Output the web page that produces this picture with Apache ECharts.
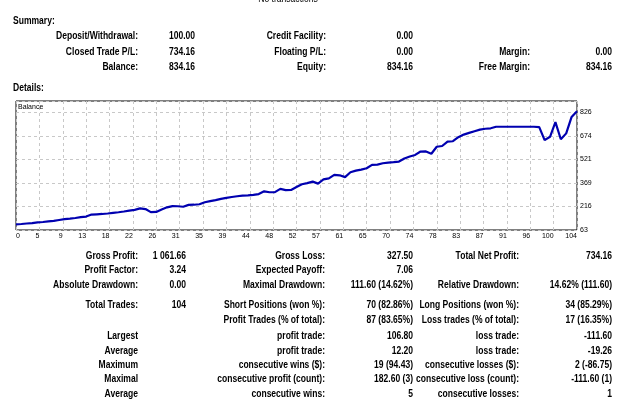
<!DOCTYPE html>
<html><head><meta charset="utf-8">
<script src="https://cdn.jsdelivr.net/npm/echarts@6/dist/echarts.min.js"></script>
<style>html,body{margin:0;padding:0;background:#fff;overflow:hidden}#c{width:625px;height:404px}</style>
</head><body><div id="c"></div>
<script>
// ---- chart data ----
const balance = [100,102,105,108,112,115,119,122,128,134,137,141,146,150,163,165,167,170,174,178,
  183,189,194,203,199,179,180,196,210,218,217,214,226,227,230,243,250,257,265,271,
  277,282,286,288,291,296,314,308,309,330,322,323,342,360,367,377,364,391,398,421,
  418,406,438,448,455,464,486,487,496,500,503,507,527,540,550,572,573,558,603,608,
  637,639,665,682,693,704,714,720,723,733,733,733,733,733,733,733,733,730,646,668,
  763.16,651.56,690,796.8,834.16];
const xTickLabels = ['0','5','9','13','18','22','26','31','35','39','44','48','52','57','61','65','70','74','78','83','87','91','96','100','104'];
const yTickLabels = ['63','216','369','521','674','826'];

// ---- report texts ----
const summaryRows = [
  ['Deposit/Withdrawal:','100.00','Credit Facility:','0.00','',''],
  ['Closed Trade P/L:','734.16','Floating P/L:','0.00','Margin:','0.00'],
  ['Balance:','834.16','Equity:','834.16','Free Margin:','834.16']
];
const detailRows = [
  ['Gross Profit:','1 061.66','Gross Loss:','327.50','Total Net Profit:','734.16'],
  ['Profit Factor:','3.24','Expected Payoff:','7.06','',''],
  ['Absolute Drawdown:','0.00','Maximal Drawdown:','111.60 (14.62%)','Relative Drawdown:','14.62% (111.60)'],
  ['Total Trades:','104','Short Positions (won %):','70 (82.86%)','Long Positions (won %):','34 (85.29%)'],
  ['','','Profit Trades (% of total):','87 (83.65%)','Loss trades (% of total):','17 (16.35%)'],
  ['Largest','','profit trade:','106.80','loss trade:','-111.60'],
  ['Average','','profit trade:','12.20','loss trade:','-19.26'],
  ['Maximum','','consecutive wins ($):','19 (94.43)','consecutive losses ($):','2 (-86.75)'],
  ['Maximal','','consecutive profit (count):','182.60 (3)','consecutive loss (count):','-111.60 (1)'],
  ['Average','','consecutive wins:','5','consecutive losses:','1']
];

// ---- layout ----
const summaryY = [36, 52, 67];
const summaryX = [138, 195, 326, 413, 530, 612];
const detailY = [256, 270, 285, 305, 320, 336, 351, 365, 379, 394];
const detailX = [138, 186, 325, 413, 519, 612];

const FONT = "'Liberation Sans', Arial, sans-serif";
const TABLE_SIZE = 10.5;
const SMALL_SIZE = 7;
// horizontal squeeze so a bold 10.5px Liberation Sans matches the narrower report face
const ctx = document.createElement('canvas').getContext('2d');
ctx.font = 'bold ' + TABLE_SIZE + 'px ' + FONT;
const SQUEEZE = 82 / ctx.measureText('Deposit/Withdrawal:').width;

const graphics = [];
function txt(s, x, y, align, opts, sx) {
  if (!s) return;
  graphics.push({type:'text', x:x, y:y, scaleX: sx == null ? SQUEEZE : sx, silent:true, z:100, style: Object.assign({
    text:s, fill:'#000', fontFamily:FONT, fontSize:TABLE_SIZE, fontWeight:'bold',
    align:align, verticalAlign:'middle'}, opts || {})});
}
txt('No transactions', 288, -1, 'center', {fontWeight:'normal'});
txt('Summary:', 13, 21, 'left');
txt('Details:', 13, 88, 'left');
summaryRows.forEach((r, i) => r.forEach((s, j) => txt(s, summaryX[j], summaryY[i], 'right')));
detailRows.forEach((r, i) => r.forEach((s, j) => txt(s, detailX[j], detailY[i], 'right')));
txt('Balance', 18, 107, 'left', {fontSize:SMALL_SIZE, fontWeight:'normal'}, 1);

const xInterval = 104 / 24;
const yInterval = 152.6;
const grid = {left:16, top:101, width:561, height:129, show:true, borderColor:'#000', borderWidth:1,
  backgroundColor:'#fff', containLabel:false, outerBoundsMode:'none'};
const dashed = {show:true, lineStyle:{color:'#c8c8c8', type:[3,3], width:1}};

const chart = echarts.init(document.getElementById('c'), null, {renderer:'canvas'});
chart.setOption({
  animation:false,
  backgroundColor:'#fff',
  grid: grid,
  xAxis: {type:'value', min:0, max:104, interval:xInterval,
    axisLine:{show:false}, axisTick:{show:false}, splitLine:dashed,
    axisLabel:{fontSize:SMALL_SIZE, fontFamily:FONT, color:'#000', margin:3, align:'right', alignMinLabel:'left',
      formatter: v => { const k = Math.round(v / xInterval); return Math.abs(v - k * xInterval) < 0.01 ? (xTickLabels[k] || '') : ''; }}
  },
  yAxis: [
    {type:'value', min:63, max:900, show:false},
    {type:'value', position:'right', min:0, max:837, interval:yInterval,
      axisLine:{show:false}, axisTick:{show:false}, splitLine:dashed,
      axisLabel:{fontSize:SMALL_SIZE, fontFamily:FONT, color:'#000', margin:3, showMaxLabel:false,
        formatter: v => { const k = Math.round(v / yInterval); return Math.abs(v - k * yInterval) < 0.5 ? (yTickLabels[k] || '') : ''; }}
    }
  ],
  series: [{type:'line', yAxisIndex:0, data: balance.map((v, i) => [i, v]), showSymbol:false,
    lineStyle:{color:'#0000b0', width:2.2}, silent:true}],
  graphic: graphics
});
</script>
</body></html>
